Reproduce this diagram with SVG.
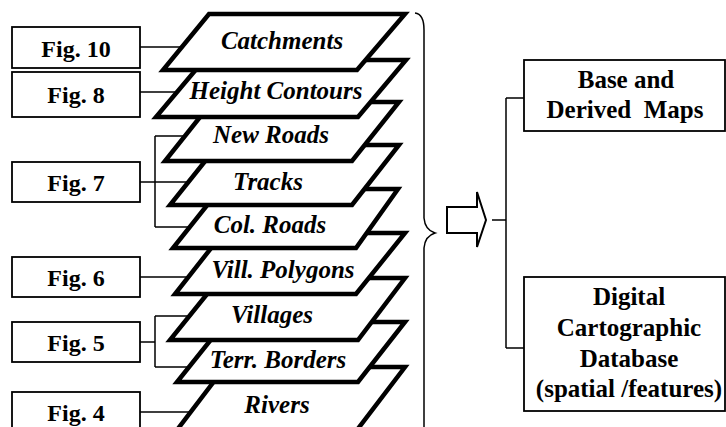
<svg xmlns="http://www.w3.org/2000/svg" width="726" height="427" viewBox="0 0 726 427">
<defs>
<style>
.box{fill:#fff;stroke:#000;stroke-width:1.8}
.lay{fill:#fff;stroke:#000;stroke-width:4.5;stroke-linejoin:miter}
.ln{fill:none;stroke:#000;stroke-width:1.5}
.t{font-family:'Liberation Serif',serif;font-weight:bold;text-anchor:middle;fill:#000}
.i{font-style:italic;font-size:25px}
.f{font-size:24px}
.r{font-size:25px}
</style>
</defs>
<rect x="0" y="0" width="726" height="427" fill="#fff"/>
<g id="connectors">
<path class="ln" d="M140 47H200M140 92H200M140 182H155M155 136V227M155 136H200M155 182H205M155 227H205M140 277H205M140 342H155M155 316V367M155 316H205M155 367H205M140 412H205"/>
<path class="ln" d="M415 13Q424 14 424 30V218Q425 230 435 233Q425 236 424 248V427" stroke-width="2"/>
<path class="ln" d="M492 220H506M506 98V348M506 98H524M506 348H524"/>
</g>
<g id="arrow">
<path d="M447 207H477V192L486 220L477 247V233H447Z" fill="#fff" stroke="#000" stroke-width="2"/>
</g>
<g id="layer-rivers"><polygon class="lay" points="225,367 405,367 357,430 177,430"/><text class="t i" x="277" y="413">Rivers</text></g>
<g id="layer-terr-borders"><polygon class="lay" points="225,322 405,322 358,382 177,382"/><text class="t i" x="278" y="368">Terr. Borders</text></g>
<g id="layer-villages"><polygon class="lay" points="220,278 405,278 358,340 170,340"/><text class="t i" x="272" y="323">Villages</text></g>
<g id="layer-vill-polygons"><polygon class="lay" points="223,233 405,233 356,294 175,294"/><text class="t i" x="283" y="278">Vill. Polygons</text></g>
<g id="layer-col-roads"><polygon class="lay" points="220,189 398,189 356,248 173,248"/><text class="t i" x="270" y="233">Col. Roads</text></g>
<g id="layer-tracks"><polygon class="lay" points="218,145 399,145 352,205 170,205"/><text class="t i" x="268" y="190">Tracks</text></g>
<g id="layer-new-roads"><polygon class="lay" points="212,102 399,102 352,161 165,161"/><text class="t i" x="271" y="143">New Roads</text></g>
<g id="layer-height-contours"><polygon class="lay" points="204,60 406,60 358,117 156,117"/><text class="t i" x="276" y="99">Height Contours</text></g>
<g id="layer-catchments"><polygon class="lay" points="209,14 405,14 357,70 163,70"/><text class="t i" x="282" y="49">Catchments</text></g>
<g id="fig10"><rect class="box" x="12" y="27" width="128" height="41"/><text class="t f" x="76" y="57">Fig. 10</text></g>
<g id="fig8"><rect class="box" x="12" y="72" width="128" height="45"/><text class="t f" x="76" y="103">Fig. 8</text></g>
<g id="fig7"><rect class="box" x="12" y="162" width="128" height="40"/><text class="t f" x="76" y="191">Fig. 7</text></g>
<g id="fig6"><rect class="box" x="12" y="257" width="128" height="40"/><text class="t f" x="76" y="286">Fig. 6</text></g>
<g id="fig5"><rect class="box" x="12" y="322" width="128" height="40"/><text class="t f" x="76" y="351">Fig. 5</text></g>
<g id="fig4"><rect class="box" x="12" y="392" width="128" height="45"/><text class="t f" x="76" y="421">Fig. 4</text></g>
<g id="base-maps"><rect class="box" x="524" y="60" width="201" height="71"/><text class="t r" x="626" y="88">Base and</text><text class="t r" x="625" y="118" xml:space="preserve">Derived  Maps</text></g>
<g id="digital-db"><rect class="box" x="524" y="277" width="201" height="134"/><text class="t r" x="629" y="305">Digital</text><text class="t r" x="629" y="336">Cartographic</text><text class="t r" x="629" y="367">Database</text><text class="t r" x="629" y="397">(spatial /features)</text></g>
</svg>
